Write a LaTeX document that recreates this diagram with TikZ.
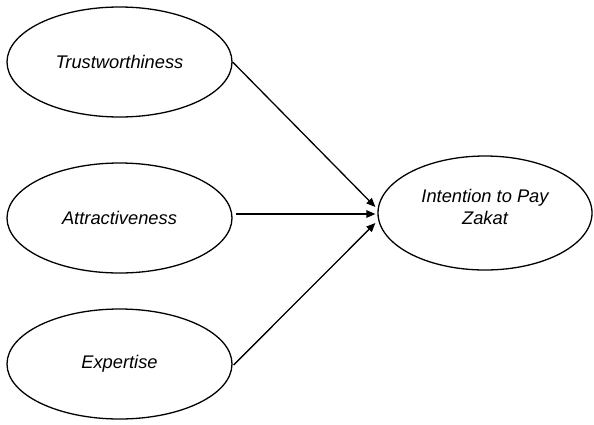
\documentclass[tikz,border=0pt]{standalone}
\usepackage{fontspec}
\setmainfont{Liberation Sans}
\usetikzlibrary{shapes.geometric,arrows.meta,calc}
\begin{document}
\begin{tikzpicture}[x=1pt,y=-1pt,
  latent/.style={ellipse,draw,line width=1.3pt,inner sep=0pt,minimum width=225pt,minimum height=110pt,font=\fontsize{18.3}{22}\selectfont\itshape,align=center},
  path/.style={line width=1.3pt,-{Triangle[length=9pt,width=7.5pt]}}]
\useasboundingbox (0,0) rectangle (594,424);
\node[latent] (tr) at (119.5,62) {Trustworthiness};
\node[latent] (at) at (119.5,218) {Attractiveness};
\node[latent] (ex) at (119.5,364) {Expertise};
\node[latent,minimum width=214pt,minimum height=114pt] (in) at (485,213) {};
\node[font=\fontsize{18.3}{22}\selectfont\itshape,align=center] (inlbl) at (485,207) {Intention to Pay\\Zakat};
\coordinate (e1) at ($(in.west)+(-2,-6)$);
\coordinate (e2) at ($(in.west)+(-2,1)$);
\coordinate (e3) at ($(in.west)+(-2,10)$);
\draw[path] (tr.east) -- (e1);
\draw[path] (at.east) ++(3,-4) -- (e2);
\draw[path] (ex.east) ++(1,1) -- (e3);
\end{tikzpicture}
\end{document}
